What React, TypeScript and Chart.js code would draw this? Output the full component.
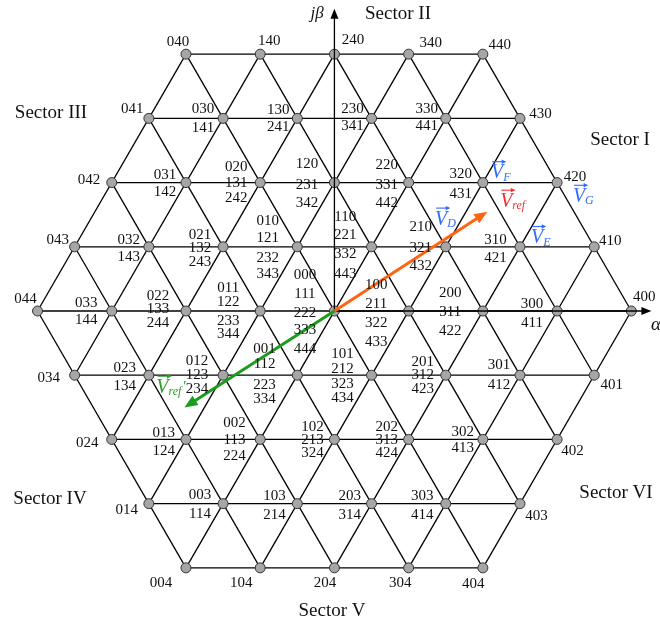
import React, { useEffect, useRef } from "react";
import { Chart, registerables } from "chart.js";
Chart.register(...registerables);

// ---------- DATA ----------
// Redundant switching states (abc, levels 0..4) of each space-vector node, row by row (top to bottom)
const statesRow4 = [["040"], ["140"], ["240"], ["340"], ["440"]];
const statesRow3 = [["041"], ["030", "141"], ["130", "241"], ["230", "341"], ["330", "441"], ["430"]];
const statesRow2 = [["042"], ["031", "142"], ["020", "131", "242"], ["120", "231", "342"], ["220", "331", "442"], ["320", "431"], ["420"]];
const statesRow1 = [["043"], ["032", "143"], ["021", "132", "243"], ["010", "121", "232", "343"], ["110", "221", "332", "443"], ["210", "321", "432"], ["310", "421"], ["410"]];
const statesRow0 = [["044"], ["033", "144"], ["022", "133", "244"], ["011", "122", "233", "344"], ["000", "111", "222", "333", "444"], ["100", "211", "322", "433"], ["200", "311", "422"], ["300", "411"], ["400"]];
const statesRowM1 = [["034"], ["023", "134"], ["012", "123", "234"], ["001", "112", "223", "334"], ["101", "212", "323", "434"], ["201", "312", "423"], ["301", "412"], ["401"]];
const statesRowM2 = [["024"], ["013", "124"], ["002", "113", "224"], ["102", "213", "324"], ["202", "313", "424"], ["302", "413"], ["402"]];
const statesRowM3 = [["014"], ["003", "114"], ["103", "214"], ["203", "314"], ["303", "414"], ["403"]];
const statesRowM4 = [["004"], ["104"], ["204"], ["304"], ["404"]];

const maxLevel = 4;
const sectorNames = ["Sector I", "Sector II", "Sector III", "Sector IV", "Sector V", "Sector VI"];
// reference vectors (alpha, beta) in normalised units
const refVector = { x: 2.06, y: 1.34 };
const refVectorPrime = { x: -2.02, y: -1.3 };
// named vectors and the node state they belong to
const namedVectors = [
  { sub: "F", state: "320" },
  { sub: "G", state: "420" },
  { sub: "E", state: "310" },
  { sub: "D", state: "210" },
];

// ---------- LAYOUT (label placement, px offsets from node) ----------
type L = [number, number[]];
const layoutRow4: L[] = [[-8, [-12]], [9, [-13]], [18.5, [-14]], [22, [-11]], [17, [-9]]];
const layoutRow3: L[] = [[-16.5, [-9.6]], [-20, [-9.6, 9.4]], [-19, [-8.6, 8.4]], [-19, [-9.6, 7.4]], [-19, [-9.6, 7.4]], [20.5, [-4.6]]];
const layoutRow2: L[] = [[-22.7, [-3]], [-21, [-8, 9]], [-24, [-16, 0, 15]], [-27.5, [-19, 2, 20]], [-22, [-18, 2, 20]], [-22, [-9, 11]], [18, [-6]]];
const layoutRow1: L[] = [[-17, [-6.5]], [-20, [-6.5, 10.5]], [-23, [-11.5, 1.5, 15.5]], [-29.5, [-25.5, -8.5, 11.5, 27.5]], [-26.3, [-29.5, -11.5, 7.5, 27.5]], [-25, [-19.5, 1.5, 19.5]], [-24.5, [-6.5, 11.5]], [16, [-5.5]]];
const layoutRow0: L[] = [[-12, [-12.3]], [-25.5, [-8, 9]], [-28, [-15.3, -2, 12]], [-32, [-22.7, -9.3, 9.7, 23]], [-29.5, [-36, -17, 1.7, 19, 38]], [-32.4, [-26, -7, 11.7, 31]], [-32.7, [-18, 1, 20]], [-25, [-7, 11.7]], [13, [-14.3]]];
const layoutRowM1: L[] = [[-26, [2.5]], [-24, [-7.5, 10.8]], [-26, [-14.5, 0.2, 14.2]], [-32.7, [-25.8, -10.8, 10.2, 24.2]], [-29, [-21.5, -6.5, 9.2, 22.8]], [-23, [-13.2, 0.2, 13.5]], [-21, [-9.8, 10.2]], [17.6, [9.5]]];
const layoutRowM2: L[] = [[-24.4, [4]], [-22.3, [-6, 12]], [-25.6, [-16, 0.8, 16.8]], [-22, [-12, 0.8, 14]], [-22, [-12, 0.8, 14]], [-20, [-7.6, 8.8]], [15.4, [11.4]]];
const layoutRowM3: L[] = [[-22, [6]], [-23, [-8.4, 10]], [-22.7, [-7.4, 11]], [-21.8, [-7.4, 11]], [-23.4, [-7.4, 11]], [16.5, [12]]];
const layoutRowM4: L[] = [[-25, [15.4]], [-19, [15]], [-9.5, [15]], [-8.4, [15]], [-9.7, [16]]];

const sectorPos = [[620, 140], [398, 14], [51, 113], [50, 499], [332, 611], [616, 493]];
const namedVecOffsets = [[14.3, -9.4], [22, 14.2], [17.2, -8.8], [-4.6, -27.2]];

const FONT = "'Liberation Serif', 'Times New Roman', serif";
const SQ3 = Math.sqrt(3);
const PX_PER_UNIT = 75.6;
const CX = 334.5, CY = 311, W = 660, H = 623;

function stateToXY(s: string) {
  const a = +s[0], b = +s[1], c = +s[2];
  return { x: a - (b + c) / 2, y: ((b - c) * SQ3) / 2 };
}

const allStates = [...statesRow4, ...statesRow3, ...statesRow2, ...statesRow1, ...statesRow0, ...statesRowM1, ...statesRowM2, ...statesRowM3, ...statesRowM4];
const allLayout = [...layoutRow4, ...layoutRow3, ...layoutRow2, ...layoutRow1, ...layoutRow0, ...layoutRowM1, ...layoutRowM2, ...layoutRowM3, ...layoutRowM4];

function latticeLines() {
  const N = maxLevel;
  const toXY = (i: number, j: number) => ({ x: i + j / 2, y: (j * SQ3) / 2 });
  const lines: { x: number; y: number }[][] = [];
  for (let k = -N; k <= N; k++) {
    lines.push([toXY(Math.max(-N, -N - k), k), toXY(Math.min(N, N - k), k)]);
    lines.push([toXY(k, Math.max(-N, -N - k)), toXY(k, Math.min(N, N - k))]);
    const j0 = Math.max(-N, k - N), j1 = Math.min(N, k + N);
    lines.push([toXY(k - j0, j0), toXY(k - j1, j1)]);
  }
  return lines;
}

function arrow(ctx: CanvasRenderingContext2D, x0: number, y0: number, x1: number, y1: number, color: string, lw: number, hl: number, hw: number) {
  const dx = x1 - x0, dy = y1 - y0, len = Math.hypot(dx, dy);
  const ux = dx / len, uy = dy / len;
  const bx = x1 - ux * hl, by = y1 - uy * hl;
  ctx.strokeStyle = color;
  ctx.fillStyle = color;
  ctx.lineWidth = lw;
  ctx.beginPath();
  ctx.moveTo(x0, y0);
  ctx.lineTo(bx + ux * 1, by + uy * 1);
  ctx.stroke();
  ctx.beginPath();
  ctx.moveTo(x1, y1);
  ctx.lineTo(bx - uy * hw, by + ux * hw);
  ctx.lineTo(bx + uy * hw, by - ux * hw);
  ctx.closePath();
  ctx.fill();
}

function vecLabel(ctx: CanvasRenderingContext2D, x: number, y: number, sub: string, color: string, prime = false) {
  ctx.fillStyle = color;
  ctx.strokeStyle = color;
  ctx.font = `italic 20px ${FONT}`;
  ctx.textAlign = "center";
  ctx.textBaseline = "middle";
  ctx.fillText("V", x, y);
  ctx.font = `italic 12px ${FONT}`;
  ctx.textAlign = "left";
  ctx.fillText(sub, x + 6, y + 4.5);
  const sw = ctx.measureText(sub).width;
  if (prime) {
    ctx.font = `italic 15px ${FONT}`;
    ctx.fillText("'", x + 7 + sw, y - 1);
  }
  // over-arrow
  ctx.lineWidth = 1.1;
  ctx.beginPath();
  ctx.moveTo(x - 5, y - 11.5);
  ctx.lineTo(x + 8, y - 11.5);
  ctx.stroke();
  ctx.beginPath();
  ctx.moveTo(x + 9, y - 11.5);
  ctx.lineTo(x + 4.5, y - 13.7);
  ctx.lineTo(x + 4.5, y - 9.3);
  ctx.closePath();
  ctx.fill();
}

const overlay = {
  id: "overlay",
  afterDatasetsDraw(chart: any) {
    const ctx: CanvasRenderingContext2D = chart.ctx;
    const px = (v: number) => chart.scales.x.getPixelForValue(v);
    const py = (v: number) => chart.scales.y.getPixelForValue(v);
    ctx.save();
    arrow(ctx, px(0), py(0), px(4.27), py(0), "#000", 1.3, 10, 4);
    arrow(ctx, px(0), py(0), px(0), py(4.075), "#000", 1.3, 10, 4);
    arrow(ctx, px(0), py(0), px(refVector.x), py(refVector.y), "#ff6412", 3, 13, 5.5);
    arrow(ctx, px(0), py(0), px(refVectorPrime.x), py(refVectorPrime.y), "#1c9c1c", 3, 13, 5.5);

    ctx.fillStyle = "#111";
    ctx.font = `15px ${FONT}`;
    ctx.textAlign = "center";
    ctx.textBaseline = "middle";
    allStates.forEach((group, n) => {
      const p = stateToXY(group[0]);
      const nx = px(p.x), ny = py(p.y);
      const [dx, dys] = allLayout[n];
      group.forEach((s, k) => ctx.fillText(s, nx + dx, ny + dys[k]));
    });

    ctx.font = `19px ${FONT}`;
    sectorNames.forEach((s, i) => ctx.fillText(s, sectorPos[i][0], sectorPos[i][1]));

    ctx.font = `italic 17px ${FONT}`;
    ctx.fillText("j\u03b2", 317, 14);
    ctx.font = `italic 19px ${FONT}`;
    ctx.textAlign = "left";
    ctx.fillText("\u03b1", 651, 325);

    namedVectors.forEach((v, i) => {
      const p = stateToXY(v.state);
      vecLabel(ctx, px(p.x) + namedVecOffsets[i][0], py(p.y) + namedVecOffsets[i][1], v.sub, "#2f6bff");
    });
    vecLabel(ctx, px(refVector.x) + 19, py(refVector.y) - 10, "ref", "#ff2a2a");
    vecLabel(ctx, px(refVectorPrime.x) - 22, py(refVectorPrime.y) - 19.7, "ref", "#2aa02a", true);
    ctx.restore();
  },
};

export default function App() {
  const ref = useRef<HTMLCanvasElement>(null);
  useEffect(() => {
    const lineSets = latticeLines().map((pts) => ({
      type: "scatter" as const,
      data: pts,
      showLine: true,
      borderColor: "#000",
      borderWidth: 1.3,
      pointRadius: 0,
      order: 2,
    }));
    const nodes = {
      type: "scatter" as const,
      data: allStates.map((g) => stateToXY(g[0])),
      pointRadius: 5,
      pointBackgroundColor: "#a6a6a6",
      pointBorderColor: "#333",
      pointBorderWidth: 1,
      showLine: false,
      order: 0,
    };
    const xmin = -CX / PX_PER_UNIT, xmax = xmin + W / PX_PER_UNIT;
    const ymax = CY / PX_PER_UNIT, ymin = ymax - H / PX_PER_UNIT;
    const chart = new Chart(ref.current!, {
      type: "scatter",
      data: { datasets: [nodes, ...lineSets] as any },
      options: {
        animation: false,
        responsive: false,
        devicePixelRatio: 1,
        layout: { padding: 0 },
        events: [],
        scales: {
          x: { type: "linear", min: xmin, max: xmax, display: false },
          y: { type: "linear", min: ymin, max: ymax, display: false },
        },
        plugins: { legend: { display: false }, tooltip: { enabled: false } },
      },
      plugins: [overlay],
    });
    return () => chart.destroy();
  }, []);
  return (
    <div style={{ position: "absolute", left: 0, top: 0, width: W, height: H, background: "#fff" }}>
      <canvas ref={ref} width={W} height={H} style={{ width: W, height: H, display: "block" }} />
    </div>
  );
}
